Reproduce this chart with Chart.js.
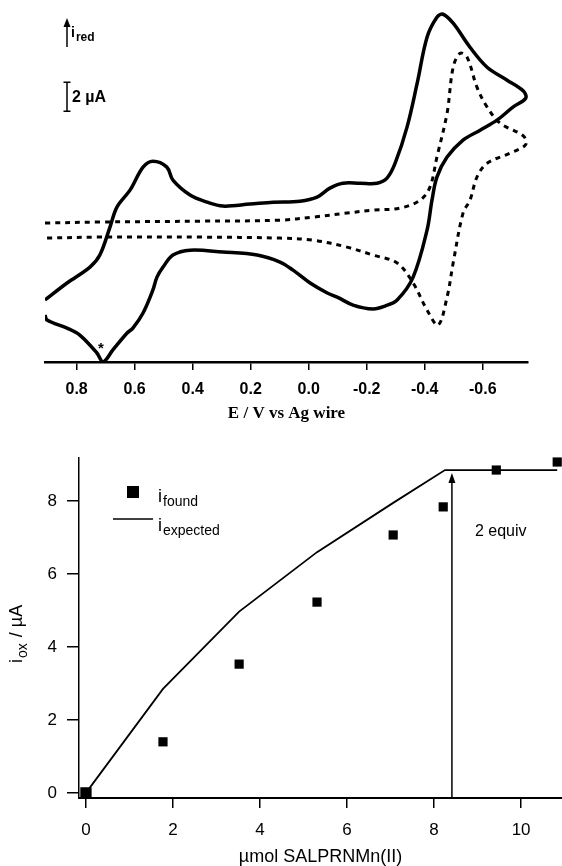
<!DOCTYPE html>
<html>
<head>
<meta charset="utf-8">
<script src="https://cdn.jsdelivr.net/npm/chart.js@4.4.1/dist/chart.umd.min.js"></script>
<style>
  html, body { margin: 0; padding: 0; background: #fff; }
  #topBox { position: absolute; left: 0; top: 0; width: 562px; height: 425px; }
  #botBox { position: absolute; left: 0; top: 425px; width: 562px; height: 441px; }
</style>
</head>
<body>
<div id="topBox"><canvas id="cvChart" width="562" height="425"></canvas></div>
<div id="botBox"><canvas id="titrChart" width="562" height="441"></canvas></div>
<script>
// ---- voltammogram (top) : E in V, current in uA (arbitrary zero) ----
// solid trace: forward branch left->right, then return branch right->left
const solidE = [0.909, 0.833, 0.754, 0.720, 0.685, 0.661, 0.616, 0.571, 0.537, 0.489,
                0.468, 0.409, 0.350, 0.296, 0.202, 0.123, 0.030, -0.029, -0.073, -0.118,
                -0.177, -0.236, -0.270, -0.298, -0.339, -0.374, -0.408, -0.442, -0.463, -0.498,
                -0.556, -0.615, -0.684, -0.740, -0.748,
                -0.704, -0.649, -0.591, -0.532, -0.477, -0.442, -0.425, -0.408, -0.360, -0.305,
                -0.263, -0.222, -0.153, -0.098, -0.064, -0.005, 0.054, 0.099, 0.178, 0.296,
                0.409, 0.468, 0.502, 0.523, 0.537, 0.571, 0.606, 0.626, 0.675, 0.709,
                0.730, 0.789, 0.833, 0.902, 0.909];
const solidI = [4.28, 5.45, 6.55, 7.38, 9.31, 10.69, 11.86, 13.45, 13.86, 13.45,
                12.55, 11.52, 11.03, 10.76, 10.90, 11.03, 11.10, 11.38, 12.00, 12.34,
                12.34, 12.34, 12.69, 13.72, 16.21, 19.24, 22.41, 23.79, 24.00, 23.38,
                21.72, 20.34, 19.45, 18.70, 18.20,
                17.59, 16.69, 16.00, 15.31, 14.14, 12.76, 11.17, 9.10, 5.86, 4.28,
                3.86, 3.66, 3.93, 4.48, 4.76, 5.45, 6.34, 6.90, 7.38, 7.59,
                7.72, 7.38, 6.55, 5.86, 4.97, 3.38, 2.34, 2.00, 0.83, 0.00,
                0.62, 1.86, 2.34, 2.90, 3.24];
// dashed trace
const dashE = [0.909, 0.720, 0.375, 0.099, -0.015, -0.132, -0.222, -0.315, -0.384, -0.418,
               -0.442, -0.477, -0.498, -0.522, -0.546, -0.580, -0.615, -0.660, -0.740, -0.748,
               -0.694, -0.615, -0.580, -0.556, -0.532, -0.498, -0.477, -0.446, -0.408, -0.360,
               -0.305, -0.222, -0.132, -0.015, 0.099, 0.375, 0.720, 0.909];
const dashI = [9.59, 9.66, 9.72, 9.79, 10.00, 10.28, 10.48, 10.62, 11.17, 12.07,
               14.14, 17.17, 20.34, 21.31, 21.03, 18.97, 17.59, 16.48, 15.60, 15.00,
               14.41, 13.72, 12.76, 11.17, 10.28, 6.83, 4.48, 2.55, 3.59, 5.45,
               6.83, 7.38, 7.93, 8.41, 8.55, 8.62, 8.62, 8.55];
const eTicks = [0.8, 0.6, 0.4, 0.2, 0.0, -0.2, -0.4, -0.6];
const scaleBarBase = 17.3, scaleBarSize = 2;   // the "2 uA" bar
const starE = 0.716, starI = 1.1;

// ---- titration (bottom) ----
const molFound = [0, 1.77, 3.52, 5.31, 7.06, 8.21, 9.43, 10.83];
const iFound   = [0, 1.40, 3.53, 5.23, 7.07, 7.84, 8.85, 9.07];
const molExpected = [0, 1.77, 3.52, 5.31, 7.06, 8.25, 10.83];
const iExpected   = [0, 2.85, 4.97, 6.60, 7.95, 8.85, 8.85];
const molTicks = [0, 2, 4, 6, 8, 10];
const iTicks = [0, 2, 4, 6, 8];
const equivMol = 8.41, equivTipI = 8.77;

const pts = (xs, ys) => xs.map((v, i) => ({ x: v, y: ys[i] }));
const SANS = '"Liberation Sans", Arial, sans-serif';
const SERIF = '"Liberation Serif", "Times New Roman", serif';

// main text followed by a lowered subscript
function drawSub(ctx, x, y, main, sub, f1, f2, drop) {
  ctx.font = f1; ctx.fillText(main, x, y);
  const w = ctx.measureText(main).width;
  ctx.font = f2; ctx.fillText(sub, x + w + 1, y + drop);
  return w + 1 + ctx.measureText(sub).width;
}

const cvNotes = {
  id: 'cvNotes',
  afterDraw(chart) {
    const { ctx, chartArea: a, scales: { x, y } } = chart;
    ctx.save();
    ctx.fillStyle = '#000'; ctx.strokeStyle = '#000';
    ctx.textAlign = 'left'; ctx.textBaseline = 'alphabetic';
    const ax = a.left + 22;
    // i_red arrow
    ctx.lineWidth = 1.5;
    ctx.beginPath(); ctx.moveTo(ax, 47); ctx.lineTo(ax, 24); ctx.stroke();
    ctx.beginPath(); ctx.moveTo(ax, 18); ctx.lineTo(ax - 3.5, 27); ctx.lineTo(ax + 3.5, 27); ctx.closePath(); ctx.fill();
    drawSub(ctx, ax + 4, 37, 'i', 'red', 'bold 14px ' + SANS, 'bold 12px ' + SANS, 4);
    // scale bar
    const yb = y.getPixelForValue(scaleBarBase), yt = y.getPixelForValue(scaleBarBase + scaleBarSize);
    ctx.lineWidth = 1.5;
    ctx.beginPath();
    ctx.moveTo(ax, yb); ctx.lineTo(ax, yt);
    ctx.moveTo(ax - 3.5, yb); ctx.lineTo(ax + 3.5, yb);
    ctx.moveTo(ax - 3.5, yt); ctx.lineTo(ax + 3.5, yt);
    ctx.stroke();
    ctx.font = 'bold 16px ' + SANS; ctx.textBaseline = 'middle';
    ctx.fillText('2 \u00b5A', ax + 5, (yb + yt) / 2 + 1);
    // asterisk
    ctx.textAlign = 'center';
    ctx.font = 'bold 15px ' + SANS;
    ctx.fillText('*', x.getPixelForValue(starE), y.getPixelForValue(starI) + 3);
    ctx.restore();
  }
};

new Chart(document.getElementById('cvChart'), {
  type: 'scatter',
  data: {
    datasets: [
      { label: 'solid', data: pts(solidE, solidI), showLine: true, borderColor: '#000',
        borderWidth: 3.5, pointRadius: 0, tension: 0.35 },
      { label: 'dashed', data: pts(dashE, dashI), showLine: true, borderColor: '#000',
        borderWidth: 3, borderDash: [5, 5], pointRadius: 0, tension: 0.35 }
    ]
  },
  options: {
    responsive: false, animation: false,
    layout: { autoPadding: false, padding: { left: 45, right: 34, top: 7, bottom: 0 } },
    plugins: { legend: { display: false }, tooltip: { enabled: false } },
    scales: {
      x: {
        type: 'linear', reverse: true, min: -0.756, max: 0.909,
        afterBuildTicks: s => { s.ticks = eTicks.map(v => ({ value: v })); },
        afterFit: s => { s.height = 63; },
        grid: { drawOnChartArea: false, drawTicks: true, tickLength: 8, color: '#000', lineWidth: 1.5 },
        border: { display: true, color: '#000', width: 2.5 },
        ticks: { color: '#000', padding: 10, maxRotation: 0, font: { family: SANS, size: 16, weight: 'bold' },
                 callback: v => v.toFixed(1) },
        title: { display: true, text: 'E / V vs Ag wire', color: '#000',
                 font: { family: SERIF, size: 17, weight: 'bold' }, padding: { top: 0, bottom: 1 } }
      },
      y: { type: 'linear', display: false, min: 0, max: 24.5 }
    }
  },
  plugins: [cvNotes]
});

const titrNotes = {
  id: 'titrNotes',
  afterDraw(chart) {
    const { ctx, chartArea: a, scales: { x, y } } = chart;
    ctx.save();
    ctx.fillStyle = '#000'; ctx.strokeStyle = '#000';
    ctx.textAlign = 'left'; ctx.textBaseline = 'alphabetic';
    // legend
    ctx.fillRect(a.left + 48, 61, 12, 12);
    ctx.lineWidth = 1.5;
    ctx.beginPath(); ctx.moveTo(a.left + 34, 94); ctx.lineTo(a.left + 74, 94); ctx.stroke();
    drawSub(ctx, a.left + 79, 77, 'i', 'found', '18px ' + SANS, '14px ' + SANS, 4);
    drawSub(ctx, a.left + 79, 106, 'i', 'expected', '18px ' + SANS, '14px ' + SANS, 4);
    // 2 equiv arrow
    const ex = x.getPixelForValue(equivMol), tip = y.getPixelForValue(equivTipI);
    ctx.lineWidth = 1.5;
    ctx.beginPath(); ctx.moveTo(ex, a.bottom); ctx.lineTo(ex, tip + 8); ctx.stroke();
    ctx.beginPath(); ctx.moveTo(ex, tip); ctx.lineTo(ex - 3.5, tip + 10); ctx.lineTo(ex + 3.5, tip + 10); ctx.closePath(); ctx.fill();
    ctx.font = '16px ' + SANS; ctx.textBaseline = 'middle';
    ctx.fillText('2 equiv', ex + 23, 107);
    // y title i_ox / uA
    ctx.translate(22, 238);
    ctx.rotate(-Math.PI / 2);
    ctx.textBaseline = 'alphabetic';
    const w = drawSub(ctx, 0, 0, 'i', 'ox', '18px ' + SANS, '14px ' + SANS, 5);
    ctx.font = '18px ' + SANS;
    ctx.fillText(' / \u00b5A', w + 1, 0);
    ctx.restore();
  }
};

new Chart(document.getElementById('titrChart'), {
  type: 'scatter',
  data: {
    datasets: [
      { label: 'i found', data: pts(molFound, iFound), pointStyle: 'rect', backgroundColor: '#000',
        borderColor: '#000', borderWidth: 0, pointRadius: c => (c.dataIndex === 0 ? 8 : 6.5), clip: false },
      { label: 'i expected', data: pts(molExpected, iExpected), showLine: true, borderColor: '#000',
        borderWidth: 1.8, pointRadius: 0, tension: 0 }
    ]
  },
  options: {
    responsive: false, animation: false,
    layout: { autoPadding: false, padding: { left: 0, right: 0, top: 33, bottom: 0 } },
    plugins: { legend: { display: false }, tooltip: { enabled: false } },
    scales: {
      x: {
        type: 'linear', min: -0.16, max: 10.94,
        afterBuildTicks: s => { s.ticks = molTicks.map(v => ({ value: v })); },
        afterFit: s => { s.height = 68; },
        grid: { drawOnChartArea: false, drawTicks: true, tickLength: 10, color: '#000', lineWidth: 1.5 },
        border: { display: true, color: '#000', width: 2 },
        ticks: { color: '#000', padding: 12, maxRotation: 0, font: { family: SANS, size: 17 } },
        title: { display: true, text: '\u00b5mol SALPRNMn(II)', color: '#000',
                 font: { family: SANS, size: 18, lineHeight: 1.0 }, padding: { top: 0, bottom: 0 } }
      },
      y: {
        type: 'linear', min: -0.14, max: 9.18,
        afterBuildTicks: s => { s.ticks = iTicks.map(v => ({ value: v })); },
        afterFit: s => { s.width = 79; },
        grid: { drawOnChartArea: false, drawTicks: true, tickLength: 12, color: '#000', lineWidth: 1.5 },
        border: { display: true, color: '#000', width: 1.5 },
        ticks: { color: '#000', padding: 10, font: { family: SANS, size: 17 } }
      }
    }
  },
  plugins: [titrNotes]
});
</script>
</body>
</html>
